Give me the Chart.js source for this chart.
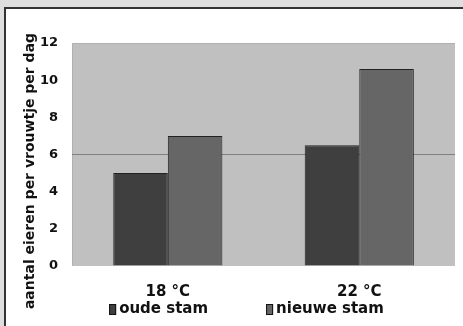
<!DOCTYPE html>
<html>
<head>
<meta charset="utf-8">
<script src="https://cdn.jsdelivr.net/npm/chart.js@4"></script>
<style>
    html, body { margin: 0; padding: 0; background: #dedede; }
    body { width: 463px; height: 326px; overflow: hidden; position: relative; }
    .frame {
        position: absolute; left: 4px; top: 7px; width: 459px; height: 319px;
        background: #fff; border-top: 2px solid #333; border-left: 2px solid #333;
    }
    canvas { display: block; }
</style>
</head>
<body>
<div class="frame"><canvas id="chart" width="457" height="317"></canvas></div>
<script>
const categories = ['18 °C', '22 °C'];
const oudeStam = [5, 6.5];
const nieuweStam = [7, 10.6];
const seriesNames = ['oude stam', 'nieuwe stam'];
const yTicks = [0, 2, 4, 6, 8, 10, 12];
const yTitle = 'aantal eieren per vrouwtje per dag';

const family = "'DejaVu Sans', 'Liberation Sans', Arial, sans-serif";
const font = { family: family, weight: 'bold', size: 15 };
const tickFont = { family: family, weight: 'bold', size: 13 };

// grey plot background
const plotBg = {
    id: 'plotBg',
    beforeDraw(chart) {
        const { ctx, chartArea: a } = chart;
        ctx.save();
        ctx.fillStyle = '#c0c0c0';
        ctx.fillRect(a.left, a.top, a.right - a.left, a.bottom - a.top);
        ctx.strokeStyle = '#b0b0b0';
        ctx.lineWidth = 1;
        ctx.beginPath();
        ctx.moveTo(a.left + 0.5, a.bottom);
        ctx.lineTo(a.left + 0.5, a.top + 0.5);
        ctx.lineTo(a.right, a.top + 0.5);
        ctx.stroke();
        ctx.restore();
    }
};

// y title and legend drawn by hand, placed like the original
const extras = {
    id: 'extras',
    afterDraw(chart) {
        const { ctx } = chart;
        ctx.save();
        ctx.fillStyle = '#111';
        ctx.font = `bold 14px ${family}`;
        ctx.textAlign = 'center';
        ctx.textBaseline = 'middle';
        ctx.translate(24, 162);
        ctx.rotate(-Math.PI / 2);
        ctx.fillText(yTitle, 0, 0);
        ctx.restore();

        ctx.save();
        ctx.font = `bold 15px ${family}`;
        ctx.textBaseline = 'middle';
        ctx.textAlign = 'left';
        const boxW = 7, gap = 3, spacing = 58;
        const widths = chart.data.datasets.map(d => boxW + gap + ctx.measureText(d.label).width);
        const total = widths.reduce((s, w) => s + w, 0) + spacing * (widths.length - 1);
        let x = chart.width / 2 + 12 - total / 2;
        const y = 300;
        chart.data.datasets.forEach((d, i) => {
            ctx.fillStyle = d.backgroundColor;
            ctx.fillRect(x, y - 5, boxW, 11);
            ctx.strokeStyle = '#111';
            ctx.lineWidth = 1;
            ctx.strokeRect(x + 0.5, y - 4.5, boxW - 1, 10);
            ctx.fillStyle = '#111';
            ctx.fillText(d.label, x + boxW + gap, y);
            x += widths[i] + spacing;
        });
        ctx.restore();
    }
};

new Chart(document.getElementById('chart'), {
    type: 'bar',
    data: {
        labels: categories,
        datasets: [{
            label: seriesNames[0],
            data: oudeStam,
            backgroundColor: '#3f3f3f',
            borderColor: '#222',
            borderWidth: 1
        }, {
            label: seriesNames[1],
            data: nieuweStam,
            backgroundColor: '#666666',
            borderColor: '#222',
            borderWidth: 1
        }]
    },
    options: {
        responsive: false,
        animation: false,
        layout: { padding: { left: 20, right: 8, top: 34, bottom: 16 } },
        datasets: { bar: { barPercentage: 1, categoryPercentage: 0.57 } },
        plugins: {
            legend: { display: false },
            tooltip: { enabled: false }
        },
        scales: {
            x: {
                grid: { display: false },
                border: { display: false },
                ticks: { color: '#111', font: font, padding: 9 }
            },
            y: {
                min: 0, max: 12,
                afterBuildTicks(axis) { axis.ticks = yTicks.map(v => ({ value: v })); },
                grid: {
                    drawTicks: false,
                    color: ctx => ctx.tick && ctx.tick.value === 6 ? '#808080' : 'rgba(0,0,0,0)'
                },
                border: { display: false },
                ticks: { color: '#111', font: tickFont, padding: 14 }
            }
        }
    },
    plugins: [plotBg, extras]
});
</script>
</body>
</html>
